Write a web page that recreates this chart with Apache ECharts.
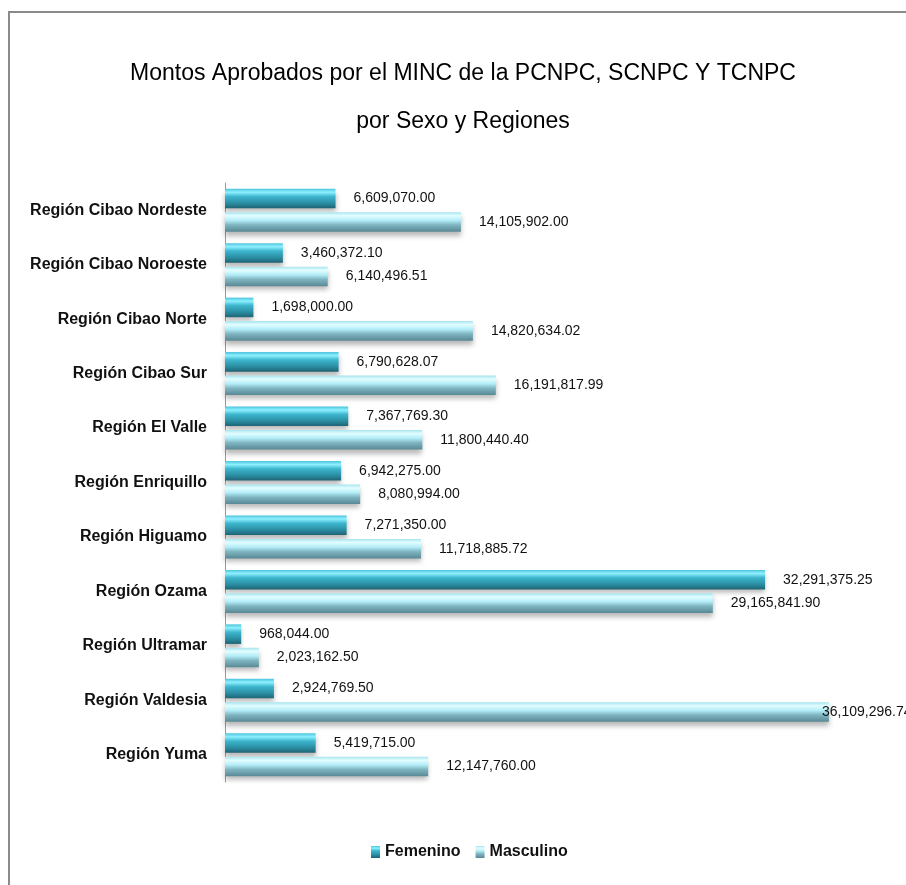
<!DOCTYPE html>
<html>
<head>
<meta charset="utf-8">
<title>Montos Aprobados por el MINC</title>
<script src="https://cdn.jsdelivr.net/npm/echarts@6/dist/echarts.min.js"></script>
<style>
    html, body { margin: 0; padding: 0; background: #ffffff; }
    #chart { width: 906px; height: 885px; }
</style>
</head>
<body>
<div id="chart"></div>
<script>
// datos
var regiones = [
    "Región Cibao Nordeste",
    "Región Cibao Noroeste",
    "Región Cibao Norte",
    "Región Cibao Sur",
    "Región El Valle",
    "Región Enriquillo",
    "Región Higuamo",
    "Región Ozama",
    "Región Ultramar",
    "Región Valdesia",
    "Región Yuma",
];
var femenino = [6609070.0, 3460372.1, 1698000.0, 6790628.07, 7367769.3, 6942275.0, 7271350.0, 32291375.25, 968044.0, 2924769.5, 5419715.0];
var masculino = [14105902.0, 6140496.51, 14820634.02, 16191817.99, 11800440.4, 8080994.0, 11718885.72, 29165841.9, 2023162.5, 36109296.74, 12147760.0];
var series_names = ["Femenino", "Masculino"];

var FONT = "'Liberation Sans', Arial, sans-serif";
var fmt = new Intl.NumberFormat("en-US", { minimumFractionDigits: 2, maximumFractionDigits: 2 });

var chart = echarts.init(document.getElementById("chart"), null, { renderer: "canvas" });

var fillFem = new echarts.graphic.LinearGradient(0, 0, 0, 1, [
    { offset: 0, color: "#4cc4dc" },
    { offset: 0.18, color: "#8ef0ff" },
    { offset: 0.4, color: "#3db6ce" },
    { offset: 0.75, color: "#2a8ca1" },
    { offset: 1, color: "#1e6373" },
]);
var fillMasc = new echarts.graphic.LinearGradient(0, 0, 0, 1, [
    { offset: 0, color: "#a6e4ee" },
    { offset: 0.18, color: "#e2fdff" },
    { offset: 0.42, color: "#b3edf7" },
    { offset: 0.65, color: "#7fb5c1" },
    { offset: 1, color: "#588994" },
]);

function buildData(values) {
    return values.map(function (v) {
        var item = { value: v };
        // la etiqueta mas larga queda montada sobre el final de la barra
        if (v > 35000000) {
            item.label = { offset: [-25, 0] };
        }
        return item;
    });
}

var labelStyle = {
    show: true,
    position: "right",
    distance: 18,
    color: "#111",
    fontFamily: FONT,
    fontSize: 14,
    formatter: function (p) {
        return fmt.format(p.value);
    },
};

var option = {
    backgroundColor: "#ffffff",
    animation: false,
    title: {
        text: "Montos Aprobados por el MINC de la PCNPC, SCNPC Y TCNPC\npor Sexo y Regiones",
        left: 458,
        textAlign: "center",
        top: 45,
        textStyle: {
            fontFamily: FONT,
            fontSize: 23,
            fontWeight: "normal",
            color: "#000",
            lineHeight: 48,
        },
    },
    legend: {
        data: series_names,
        left: 380,
        top: 839,
        icon: "rect",
        itemWidth: 9,
        itemHeight: 12,
        itemGap: 15,
        textStyle: { fontFamily: FONT, fontSize: 16, fontWeight: "bold", color: "#111" },
    },
    graphic: [
        {
            type: "rect",
            shape: { x: 9, y: 12, width: 920, height: 900 },
            style: { fill: "none", stroke: "#8a8a8a", lineWidth: 2 },
            silent: true,
            z: -1,
        },
    ],
    grid: {
        left: 225,
        top: 183,
        width: 669,
        height: 599,
        containLabel: false,
    },
    xAxis: {
        type: "value",
        min: 0,
        max: 40000000,
        show: false,
        splitLine: { show: false },
    },
    yAxis: {
        type: "category",
        data: regiones,
        inverse: true,
        axisLine: { show: true, lineStyle: { color: "#9a9a9a", width: 1 } },
        axisTick: { show: false },
        axisLabel: {
            margin: 18,
            color: "#111",
            fontFamily: FONT,
            fontSize: 16,
            fontWeight: "bold",
        },
    },
    series: [
        {
            name: series_names[0],
            type: "bar",
            data: buildData(femenino),
            barGap: "20%",
            barCategoryGap: "21%",
            itemStyle: {
                color: fillFem,
                shadowColor: "rgba(0,0,0,0.28)",
                shadowBlur: 5,
                shadowOffsetY: 4,
            },
            label: labelStyle,
        },
        {
            name: series_names[1],
            type: "bar",
            data: buildData(masculino),
            itemStyle: {
                color: fillMasc,
                shadowColor: "rgba(0,0,0,0.28)",
                shadowBlur: 5,
                shadowOffsetY: 4,
            },
            label: labelStyle,
        },
    ],
};

chart.setOption(option);

// la leyenda se centra segun su ancho real
var lw = 200;
try {
    var comp = chart.getModel().getComponent("legend");
    var view = chart.getViewOfComponentModel(comp);
    lw = view.group.getBoundingRect().width;
} catch (e) {}
chart.setOption({ legend: { left: Math.round(469 - lw / 2) } });
</script>
</body>
</html>
